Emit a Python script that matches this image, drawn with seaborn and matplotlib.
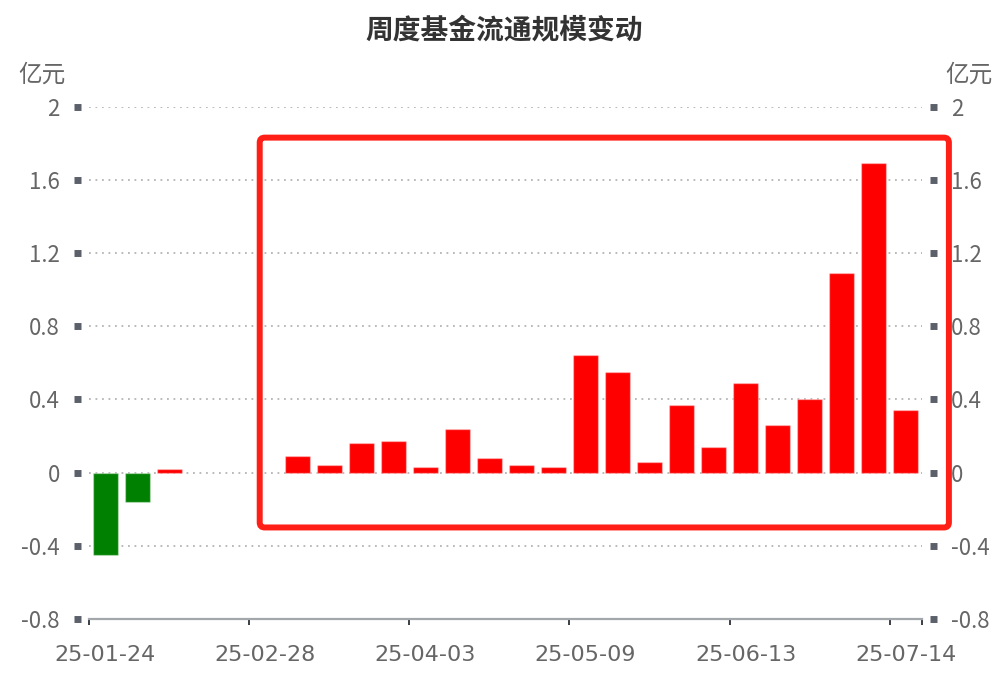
import numpy as np
import pandas as pd
import seaborn as sns
import matplotlib.pyplot as plt
from matplotlib.patches import FancyBboxPatch
from matplotlib.transforms import IdentityTransform

sns.set_style("white")
plt.rcParams['font.family'] = ['Noto Sans CJK SC', 'DejaVu Sans']
plt.rcParams['axes.unicode_minus'] = False

# weekly categories (only every 5th label is shown on the chart)
dates = ['25-01-24', '25-01-31', '25-02-07', '25-02-14', '25-02-21',
         '25-02-28', '25-03-07', '25-03-14', '25-03-21', '25-03-28',
         '25-04-03', '25-04-11', '25-04-18', '25-04-25', '25-04-30',
         '25-05-09', '25-05-16', '25-05-23', '25-05-30', '25-06-06',
         '25-06-13', '25-06-20', '25-06-27', '25-07-04', '25-07-11',
         '25-07-14']
# change in fund circulating size, 亿元 (NaN = no bar that week)
change = [-0.45, -0.16, 0.02, np.nan, np.nan,
          np.nan, 0.09, 0.04, 0.16, 0.17,
          0.03, 0.24, 0.08, 0.04, 0.03,
          0.64, 0.55, 0.06, 0.37, 0.14,
          0.49, 0.26, 0.40, 1.09, 1.69,
          0.34]
y_ticks = [-0.8, -0.4, 0, 0.4, 0.8, 1.2, 1.6, 2]
y_tick_labels = ['-0.8', '-0.4', '0', '0.4', '0.8', '1.2', '1.6', '2']
label_step = 5
# highlighted stretch (category index range) and value range of the red box
box_x = (4.83, 26.35)
box_y = (-0.30, 1.83)

df = pd.DataFrame({'date': dates, 'change': change}).dropna()
df['direction'] = np.where(df['change'] >= 0, 'in', 'out')

fig = plt.figure(figsize=(9.99, 6.75), dpi=100)
ax = fig.add_axes([0.0891, 0.0830, 0.8335, 0.7592])

sns.barplot(data=df, x='date', y='change', order=dates, hue='direction',
            palette={'in': '#ff0000', 'out': '#008000'}, dodge=False,
            saturation=1, width=0.78, legend=False, ax=ax,
            edgecolor=(1, 1, 1, 0.35), linewidth=1)

ax.set_xlim(-0.5, len(dates) - 0.5)
ax.set_ylim(-0.8, 2)
ax.set_xlabel('')
ax.set_ylabel('')

# y axes on both sides, square tick markers
ax.set_yticks(y_ticks)
ax.set_yticklabels(y_tick_labels)
ax.tick_params(axis='y', left=True, right=True, labelleft=True, labelright=True,
               direction='out', length=5, width=5, color='#5b606b',
               labelsize=16, labelcolor='#666666', pad=10)
for side in ['left', 'right']:
    ax.spines[side].set_position(('outward', 6))
    ax.spines[side].set_visible(False)
ax.spines['top'].set_visible(False)
ax.spines['bottom'].set_color('#a3a6ab')
ax.spines['bottom'].set_linewidth(1.6)

# x axis: labels at band centres, tick marks at band boundaries
label_pos = list(range(0, len(dates), label_step))
ax.set_xticks(label_pos)
ax.set_xticklabels([dates[i] for i in label_pos], family=['DejaVu Sans'])
ax.set_xticks([p - 0.5 for p in label_pos] + [len(dates) - 0.5], minor=True)
ax.tick_params(axis='x', which='major', length=0, labelsize=16,
               labelcolor='#666666', pad=19)
ax.tick_params(axis='x', which='minor', bottom=True, direction='out',
               length=4.5, width=1.4, color='#3a3f48')

ax.set_axisbelow(True)
ax.yaxis.grid(True, color='#b4b4b4', linestyle=(0, (1, 2.6)), linewidth=1.3)
ax.xaxis.grid(False)

# unit labels
ax.text(-0.0853, 1.038, '亿元', transform=ax.transAxes, ha='left', va='bottom',
        fontsize=17, color='#666666')
ax.text(1.0856, 1.038, '亿元', transform=ax.transAxes, ha='right', va='bottom',
        fontsize=17, color='#666666')

fig.text(0.505, 1 - 30 / 675, '周度基金流通规模变动', ha='center', va='center',
         fontsize=20, fontweight='bold', color='#333333')

# highlight box around the inflow stretch
(x0, y0) = ax.transData.transform((box_x[0], box_y[0]))
(x1, y1) = ax.transData.transform((box_x[1], box_y[1]))
box = FancyBboxPatch((x0, y0), x1 - x0, y1 - y0,
                     boxstyle='round,pad=0,rounding_size=5',
                     transform=IdentityTransform(), fill=False,
                     edgecolor='#ff1f17', linewidth=4.3, clip_on=False)
fig.add_artist(box)

fig.savefig('out.png', dpi=100)
plt.close(fig)
